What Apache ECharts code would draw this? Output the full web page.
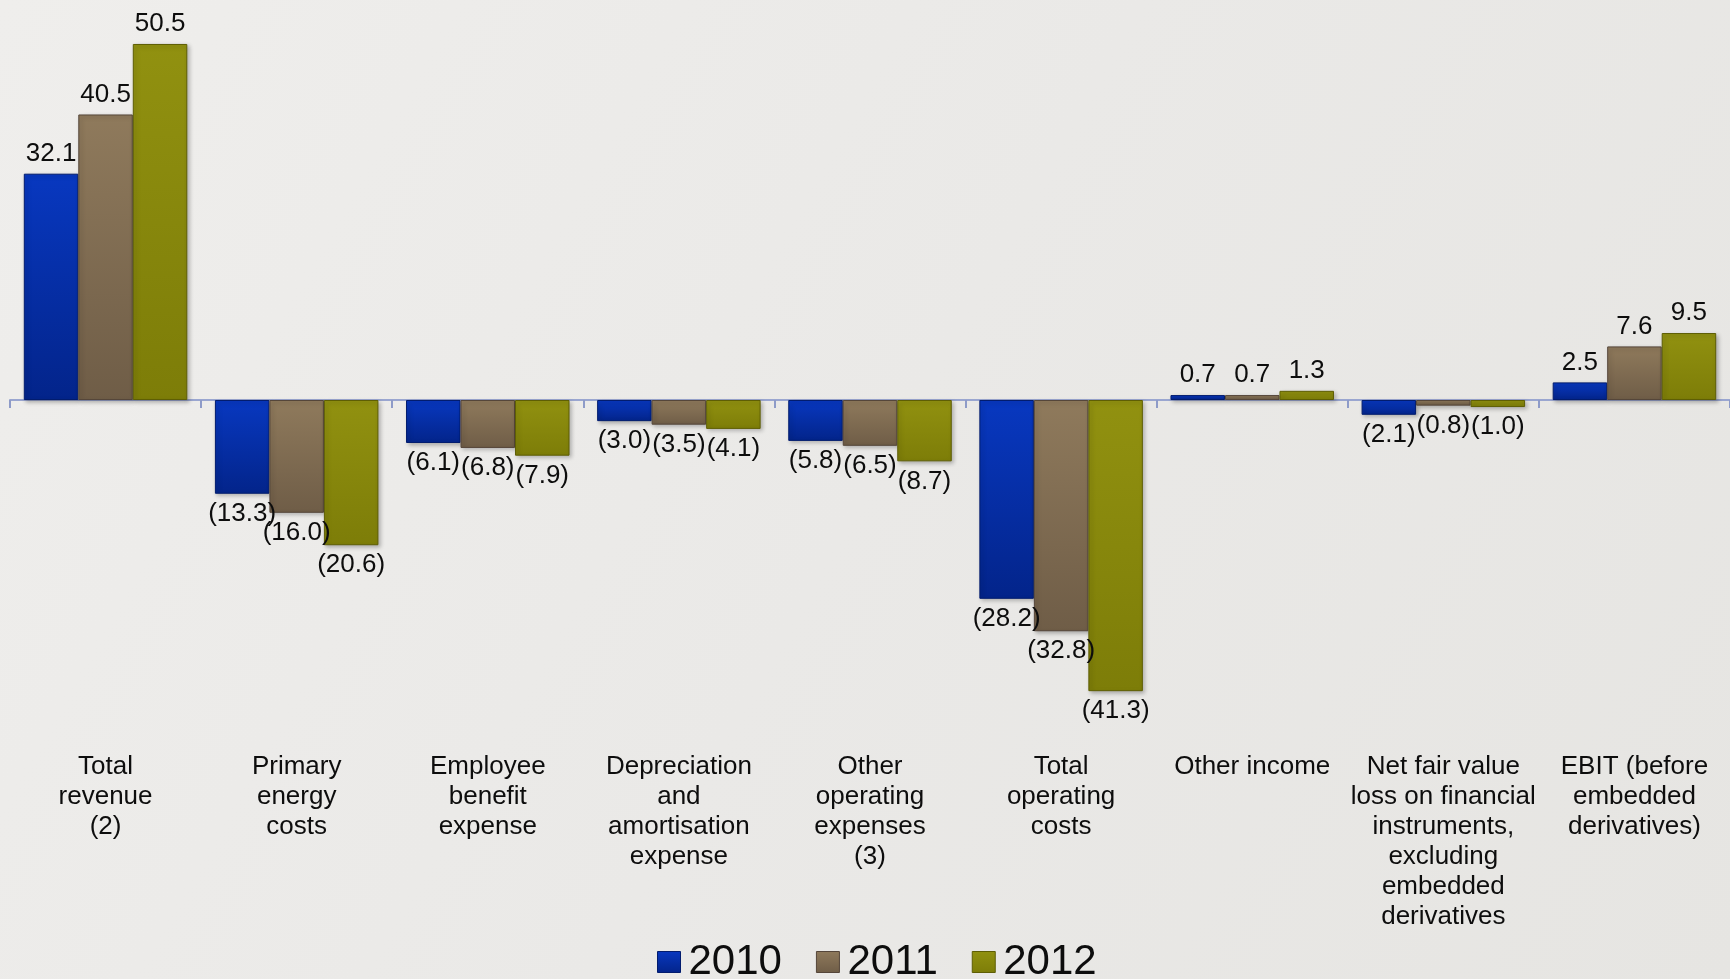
<!DOCTYPE html>
<html>
<head>
<meta charset="utf-8">
<script src="https://cdn.jsdelivr.net/npm/echarts@6/dist/echarts.min.js"></script>
<style>
  html, body { margin: 0; padding: 0; }
  #chart { width: 1730px; height: 979px; }
</style>
</head>
<body>
<div id="chart"></div>
<script>
// ---- data ----
const categories = [
  'Total\nrevenue\n(2)',
  'Primary\nenergy\ncosts',
  'Employee\nbenefit\nexpense',
  'Depreciation\nand\namortisation\nexpense',
  'Other\noperating\nexpenses\n(3)',
  'Total\noperating\ncosts',
  'Other income',
  'Net fair value\nloss on financial\ninstruments,\nexcluding\nembedded\nderivatives',
  'EBIT (before\nembedded\nderivatives)'
];
const seriesNames = ['2010', '2011', '2012'];
const values2010 = [32.1, -13.3, -6.1, -3.0, -5.8, -28.2, 0.7, -2.1, 2.5];
const values2011 = [40.5, -16.0, -6.8, -3.5, -6.5, -32.8, 0.7, -0.8, 7.6];
const values2012 = [50.5, -20.6, -7.9, -4.1, -8.7, -41.3, 1.3, -1.0, 9.5];

const FONT = '"Liberation Sans", Arial, Helvetica, sans-serif';

const palettes = [
  { top: '#0838c0', bottom: '#03248a', border: '#021c6e' },
  { top: '#8f7a5c', bottom: '#6f5d47', border: '#55463a' },
  { top: '#919110', bottom: '#7d7d08', border: '#5e5e04' }
];

function grad(p) {
  return new echarts.graphic.LinearGradient(0, 0, 0, 1, [
    { offset: 0, color: p.top },
    { offset: 1, color: p.bottom }
  ]);
}

function fmt(v) {
  return v < 0 ? '(' + Math.abs(v).toFixed(1) + ')' : v.toFixed(1);
}

function makeSeries(name, data, p) {
  return {
    name: name,
    type: 'bar',
    xAxisIndex: 0,
    barWidth: 54.5,
    barGap: '0%',
    data: data.map(v => ({
      value: v,
      label: { position: v < 0 ? 'bottom' : 'top' }
    })),
    itemStyle: {
      color: grad(p),
      borderColor: p.border,
      borderWidth: 1,
      shadowColor: 'rgba(0,0,0,0.25)',
      shadowBlur: 4,
      shadowOffsetX: 2,
      shadowOffsetY: 2
    },
    label: {
      show: true,
      distance: 7,
      fontFamily: FONT,
      fontSize: 26,
      lineHeight: 26,
      color: '#0d0d0d',
      formatter: params => fmt(params.value)
    },
    emphasis: { disabled: true }
  };
}

const chart = echarts.init(document.getElementById('chart'), null, { renderer: 'canvas' });

chart.setOption({
  animation: false,
  backgroundColor: new echarts.graphic.LinearGradient(0, 0, 1, 1, [
    { offset: 0, color: '#efeeec' },
    { offset: 0.5, color: '#eae9e7' },
    { offset: 1, color: '#e6e5e2' }
  ]),
  grid: {
    left: 10, right: 0, top: 12.25, bottom: 226.5,
    containLabel: false,
    outerBoundsMode: 'none'
  },
  legend: {
    data: seriesNames.map((n, i) => ({
      name: n,
      itemStyle: { color: grad(palettes[i]), borderColor: palettes[i].border, borderWidth: 1 }
    })),
    left: 657,
    top: 941,
    padding: 0,
    itemWidth: 23,
    itemHeight: 21,
    itemGap: 34,
    icon: 'rect',
    selectedMode: false,
    textStyle: {
      fontFamily: FONT,
      fontSize: 42,
      lineHeight: 42,
      color: '#0d0d0d',
      padding: [0, 0, 0, 3]
    }
  },
  xAxis: [
    {
      type: 'category',
      data: categories,
      axisLine: { onZero: true, lineStyle: { color: '#9aa6d0', width: 2 } },
      axisTick: { show: true, length: 8, lineStyle: { color: '#8e9bc8', width: 2 } },
      axisLabel: { show: false },
      splitLine: { show: false }
    },
    {
      type: 'category',
      data: categories,
      position: 'bottom',
      offset: 0,
      axisLine: { show: false, onZero: false },
      axisTick: { show: false },
      axisLabel: {
        show: true,
        interval: 0,
        margin: -1,
        fontFamily: FONT,
        fontSize: 26,
        lineHeight: 30,
        color: '#0d0d0d',
        align: 'center',
        verticalAlign: 'top',
        hideOverlap: false
      },
      splitLine: { show: false }
    }
  ],
  yAxis: {
    type: 'value',
    min: -50,
    max: 55,
    show: false,
    splitLine: { show: false }
  },
  series: [
    makeSeries(seriesNames[0], values2010, palettes[0]),
    makeSeries(seriesNames[1], values2011, palettes[1]),
    makeSeries(seriesNames[2], values2012, palettes[2])
  ]
});
</script>
</body>
</html>
